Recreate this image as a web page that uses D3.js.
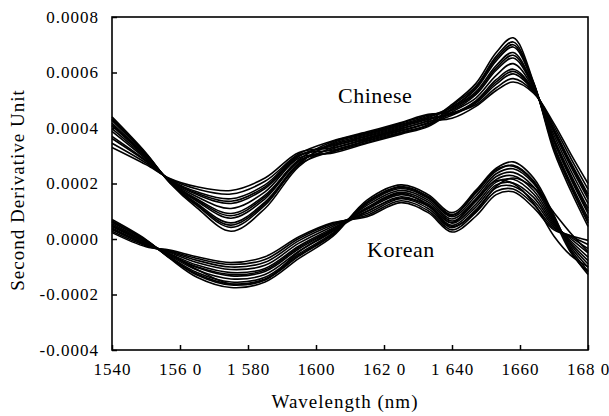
<!DOCTYPE html>
<html>
<head>
<meta charset="utf-8">
<script src="https://cdn.jsdelivr.net/npm/d3@7"></script>
<style>
  body { margin: 0; background: #fff; }
  text { font-family: "Liberation Serif", "Times New Roman", serif; fill: #000; }
</style>
</head>
<body>
<svg width="609" height="416"></svg>
<script>
// values are in units of 1e-4 (second derivative)
const wavelengths = [1540, 1550, 1557, 1565, 1575, 1585, 1595, 1605, 1615, 1625, 1633, 1640, 1647, 1653, 1658, 1664, 1670, 1675, 1680];

const chinese = [
  [4.40, 3.10, 2.02, 1.12, 0.28, 1.10, 2.62, 3.32, 3.65, 3.99, 4.27, 4.85, 5.60, 6.72, 7.25, 5.65, 3.15, 1.72, 0.45],
  [4.34, 3.07, 2.04, 1.20, 0.42, 1.22, 2.68, 3.17, 3.52, 3.85, 4.12, 4.80, 5.50, 6.58, 7.10, 5.62, 3.25, 1.85, 0.58],
  [4.27, 3.04, 2.06, 1.28, 0.58, 1.33, 2.74, 3.43, 3.76, 4.10, 4.38, 4.75, 5.40, 6.42, 6.92, 5.58, 3.38, 2.00, 0.75],
  [4.18, 3.00, 2.07, 1.36, 0.75, 1.45, 2.80, 3.25, 3.59, 3.92, 4.20, 4.70, 5.30, 6.25, 6.72, 5.52, 3.50, 2.15, 0.92],
  [4.08, 2.96, 2.09, 1.44, 0.92, 1.58, 2.86, 3.51, 3.82, 4.17, 4.46, 4.64, 5.20, 6.08, 6.52, 5.47, 3.62, 2.30, 1.10],
  [3.98, 2.92, 2.10, 1.52, 1.10, 1.70, 2.92, 3.10, 3.45, 3.78, 4.05, 4.58, 5.08, 5.90, 6.32, 5.42, 3.74, 2.45, 1.28],
  [3.88, 2.88, 2.12, 1.60, 1.28, 1.82, 2.98, 3.40, 3.72, 4.06, 4.35, 4.52, 4.98, 5.74, 6.12, 5.38, 3.85, 2.60, 1.45],
  [3.62, 2.80, 2.14, 1.70, 1.45, 1.95, 3.02, 3.21, 3.55, 3.89, 4.16, 4.46, 4.90, 5.58, 5.95, 5.34, 3.96, 2.75, 1.62],
  [3.45, 2.74, 2.16, 1.80, 1.62, 2.08, 3.07, 3.54, 3.86, 4.20, 4.49, 4.55, 4.84, 5.45, 5.78, 5.30, 4.06, 2.90, 1.80],
  [3.30, 2.68, 2.18, 1.88, 1.75, 2.20, 3.12, 3.29, 3.62, 3.96, 4.24, 4.35, 4.78, 5.35, 5.66, 5.26, 4.16, 3.05, 2.00],
  [4.30, 3.05, 2.05, 1.24, 0.50, 1.28, 2.70, 3.47, 3.79, 4.13, 4.42, 4.76, 5.45, 6.50, 7.00, 5.60, 3.30, 1.92, 0.66],
  [4.12, 2.98, 2.08, 1.40, 0.84, 1.52, 2.83, 3.14, 3.48, 3.82, 4.09, 4.66, 5.25, 6.16, 6.62, 5.50, 3.56, 2.22, 1.00],
  [3.70, 2.83, 2.13, 1.65, 1.36, 1.88, 3.00, 3.36, 3.69, 4.03, 4.31, 4.50, 4.94, 5.66, 6.04, 5.36, 3.90, 2.68, 1.54]
];

const korean = [
  [0.70, -0.02, -0.70, -1.38, -1.75, -1.55, -0.70, 0.10, 1.40, 1.95, 1.60, 0.95, 1.75, 2.55, 2.78, 2.20, 0.85, -0.45, -1.28],
  [0.65, -0.05, -0.67, -1.30, -1.66, -1.47, -0.62, 0.16, 1.34, 1.89, 1.54, 0.88, 1.65, 2.45, 2.66, 2.10, 0.80, -0.38, -1.15],
  [0.60, -0.07, -0.64, -1.21, -1.55, -1.38, -0.53, 0.22, 1.27, 1.82, 1.47, 0.80, 1.55, 2.35, 2.53, 2.00, 0.74, -0.30, -1.02],
  [0.55, -0.10, -0.60, -1.12, -1.44, -1.28, -0.44, 0.28, 1.21, 1.75, 1.40, 0.72, 1.45, 2.25, 2.40, 1.88, 0.68, -0.22, -0.90],
  [0.50, -0.12, -0.57, -1.03, -1.33, -1.17, -0.35, 0.34, 1.14, 1.68, 1.33, 0.65, 1.35, 2.15, 2.28, 1.75, 0.62, -0.15, -0.78],
  [0.45, -0.15, -0.53, -0.94, -1.21, -1.06, -0.25, 0.40, 1.07, 1.60, 1.26, 0.57, 1.25, 2.05, 2.15, 1.62, 0.56, -0.08, -0.65],
  [0.40, -0.18, -0.49, -0.85, -1.10, -0.95, -0.15, 0.46, 0.99, 1.52, 1.18, 0.49, 1.15, 1.95, 2.02, 1.50, 0.50, 0.00, -0.50],
  [0.34, -0.21, -0.46, -0.77, -1.01, -0.84, -0.06, 0.51, 0.92, 1.45, 1.10, 0.41, 1.05, 1.85, 1.90, 1.38, 0.44, 0.06, -0.35],
  [0.28, -0.24, -0.43, -0.70, -0.92, -0.74, 0.02, 0.56, 0.86, 1.38, 1.02, 0.33, 0.95, 1.72, 1.80, 1.25, 0.38, 0.10, -0.20],
  [0.23, -0.28, -0.40, -0.64, -0.85, -0.64, 0.08, 0.59, 0.80, 1.31, 0.95, 0.25, 0.82, 1.60, 1.70, 1.13, 0.33, 0.12, -0.05],
  [0.62, -0.04, -0.68, -1.26, -1.62, -1.44, -0.58, 0.18, 1.32, 1.86, 1.50, 0.85, 1.70, 2.50, 2.62, 2.05, 0.70, -0.50, -1.20],
  [0.48, -0.13, -0.56, -1.00, -1.28, -1.12, -0.30, 0.36, 1.10, 1.64, 1.20, 0.45, 1.00, 1.90, 2.20, 1.85, 0.95, 0.20, -0.45],
  [0.36, -0.20, -0.55, -1.10, -1.62, -1.48, -0.45, 0.30, 1.00, 1.48, 1.20, 0.60, 1.40, 2.10, 2.00, 1.30, 0.10, -0.60, -1.00]
];

const xTicks = [1540, 1560, 1580, 1600, 1620, 1640, 1660, 1680];
const xTickLabels = ['1540', '156 0', '1 580', '1600', '162 0', '1 640', '1660', '168 0'];
const yTicks = [-0.0004, -0.0002, 0, 0.0002, 0.0004, 0.0006, 0.0008];
const yTickLabels = ['-0.0004', '-0.0002', '0.0000', '0.0002', '0.0004', '0.0006', '0.0008'];

const svg = d3.select('svg');
const margin = { top: 17, right: 21, bottom: 66, left: 112 };
const width = 609 - margin.left - margin.right;
const height = 416 - margin.top - margin.bottom;
const unit = 1e-4;

const x = d3.scaleLinear().domain([1540, 1680]).range([0, width]);
const y = d3.scaleLinear().domain([-0.0004, 0.0008]).range([height, 0]);

const g = svg.append('g').attr('transform', `translate(${margin.left},${margin.top})`);

const line = d3.line()
  .x((d, i) => x(wavelengths[i]))
  .y((d) => y(d * unit))
  .curve(d3.curveCatmullRom.alpha(0.5));

g.append('g')
  .selectAll('path')
  .data(chinese.concat(korean))
  .enter()
  .append('path')
  .attr('d', line)
  .attr('fill', 'none')
  .attr('stroke', '#000')
  .attr('stroke-width', 1.6);

const xAxis = d3.axisBottom(x)
  .tickValues(xTicks)
  .tickFormat((d, i) => xTickLabels[i])
  .tickSizeInner(-5)
  .tickSizeOuter(0)
  .tickPadding(13);

const yAxis = d3.axisLeft(y)
  .tickValues(yTicks)
  .tickFormat((d, i) => yTickLabels[i])
  .tickSizeInner(-5)
  .tickSizeOuter(0)
  .tickPadding(13);

const gx = g.append('g').attr('transform', `translate(0,${height})`).call(xAxis);
const gy = g.append('g').call(yAxis);

[gx, gy].forEach((a) => {
  a.select('.domain').remove();
  a.selectAll('.tick line').attr('stroke', '#000').attr('stroke-width', 1.5);
  a.selectAll('.tick text')
    .attr('font-family', '"Liberation Serif", serif')
    .attr('font-size', 17)
    .attr('letter-spacing', 1)
    .style('white-space', 'pre');
});

g.append('rect')
  .attr('width', width)
  .attr('height', height)
  .attr('fill', 'none')
  .attr('stroke', '#000')
  .attr('stroke-width', 1.6);

svg.append('text')
  .attr('x', margin.left + width / 2 - 5)
  .attr('y', 408)
  .attr('text-anchor', 'middle')
  .attr('font-size', 19)
  .attr('letter-spacing', 1)
  .text('Wavelength (nm)');

svg.append('text')
  .attr('transform', 'translate(24,190) rotate(-90)')
  .attr('text-anchor', 'middle')
  .attr('font-size', 19)
  .attr('letter-spacing', 1)
  .text('Second Derivative Unit');

svg.append('text')
  .attr('x', 338)
  .attr('y', 103)
  .attr('font-size', 22)
  .attr('letter-spacing', 0.5)
  .text('Chinese');

svg.append('text')
  .attr('x', 367)
  .attr('y', 257)
  .attr('font-size', 22)
  .attr('letter-spacing', 0.5)
  .text('Korean');
</script>
</body>
</html>
